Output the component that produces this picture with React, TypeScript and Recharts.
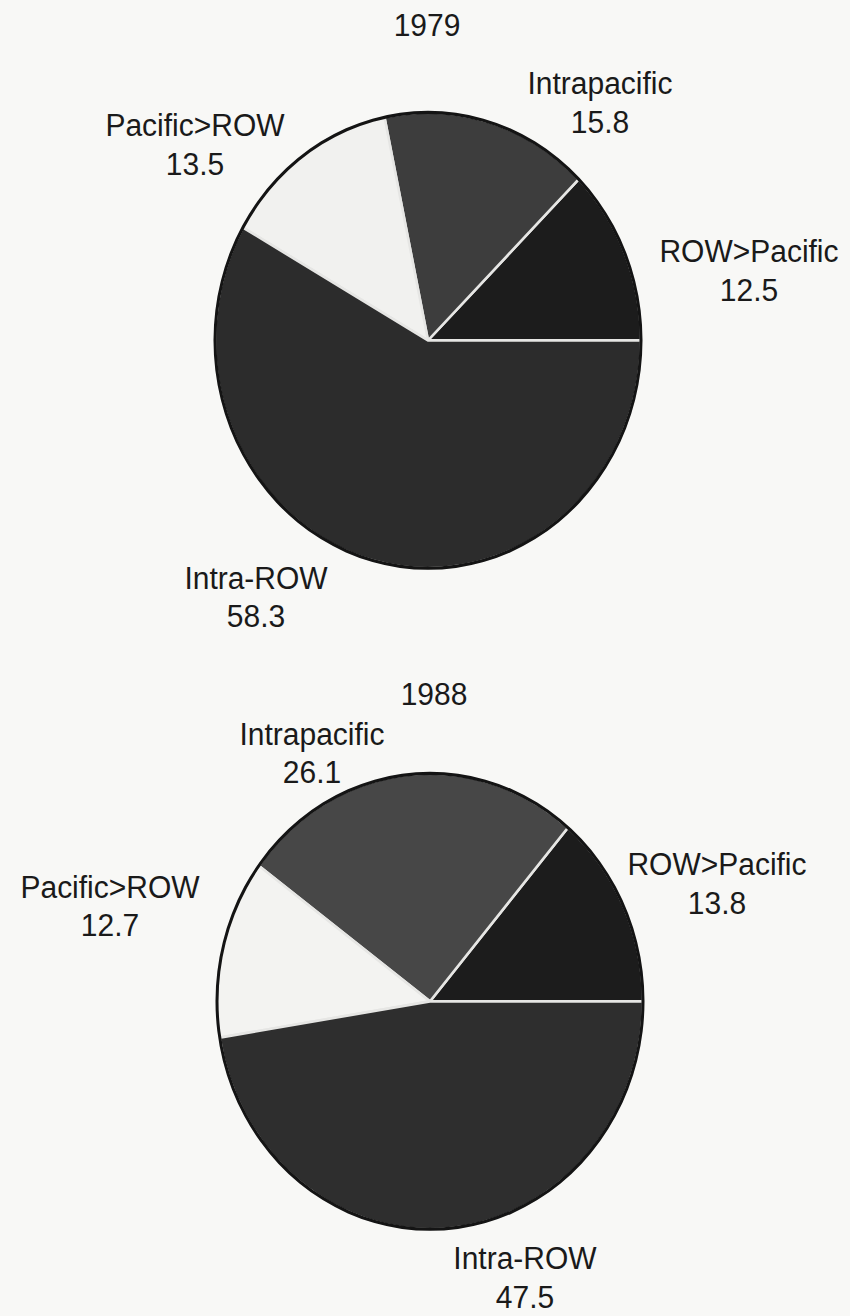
import { PieChart, Pie, Cell } from "recharts";

// shares of trade flows, percent
const sliceNames = ["ROW>Pacific", "Intrapacific", "Pacific>ROW", "Intra-ROW"];
const shares1979 = [12.5, 15.8, 13.5, 58.3];
const shares1988 = [13.8, 26.1, 12.7, 47.5];
const years = ["1979", "1988"];

const data1979 = sliceNames.map((name, i) => ({ name, value: shares1979[i] }));
const data1988 = sliceNames.map((name, i) => ({ name, value: shares1988[i] }));
const rim = [{ name: "rim", value: 1 }];

// the scan is stretched a bit vertically, so the whole chart is too
const SY = 1.07;
const W = 850;
const H = Math.round(1316 / SY);
const R = 213;

const fills1979: Record<string, string> = {
    "ROW>Pacific": "#1c1c1c",
    Intrapacific: "#3d3d3d",
    "Pacific>ROW": "#f1f1ef",
    "Intra-ROW": "#2c2c2c",
};
const fills1988: Record<string, string> = {
    "ROW>Pacific": "#1c1c1c",
    Intrapacific: "#474747",
    "Pacific>ROW": "#f3f3f1",
    "Intra-ROW": "#2e2e2e",
};

// label offsets from the pie centre
const layout1979: Record<string, [number, number]> = {
    Intrapacific: [172, -240],
    "Pacific>ROW": [-233, -201],
    "ROW>Pacific": [321, -83],
    "Intra-ROW": [-172, 222],
};
const layout1988: Record<string, [number, number]> = {
    Intrapacific: [-118, -250],
    "Pacific>ROW": [-320, -107],
    "ROW>Pacific": [287, -128],
    "Intra-ROW": [95, 240],
};

const font = { fontFamily: "'Liberation Sans', Arial, sans-serif", fontSize: 30, fill: "#1a1a1a" };

const makeLabel = (layout: Record<string, [number, number]>, gap: number) => (props: any) => {
    const name = props.payload?.name ?? props.name;
    const value = props.payload?.value ?? props.value;
    const [dx, dy] = layout[name];
    const x = props.cx + dx;
    const y = props.cy + dy;
    return (
        <g>
            <text x={x} y={y} textAnchor="middle" dominantBaseline="central" {...font}>{name}</text>
            <text x={x} y={y + gap} textAnchor="middle" dominantBaseline="central" {...font}>{Number(value).toFixed(1)}</text>
        </g>
    );
};

export default function App() {
    const c1 = { x: 423, y: 335 / SY };
    const c2 = { x: 425, y: 996 / SY };
    return (
        <div style={{ position: "absolute", left: 0, top: 0, width: W, height: 1316, overflow: "hidden", background: "#f8f8f6" }}>
            <div style={{ transform: `scaleY(${SY})`, transformOrigin: "top left" }}>
                <PieChart width={W} height={H}>
                    <text x={427} y={25 / SY} textAnchor="middle" dominantBaseline="central" {...font}>{years[0]}</text>
                    <text x={434} y={694 / SY} textAnchor="middle" dominantBaseline="central" {...font}>{years[1]}</text>

                    <Pie data={data1979} dataKey="value" nameKey="name" cx={c1.x} cy={c1.y} outerRadius={R}
                        startAngle={0} endAngle={360} stroke="#e6e6e4" strokeWidth={2.5}
                        label={makeLabel(layout1979, 36)} labelLine={false} isAnimationActive={false}>
                        {data1979.map((d) => <Cell key={d.name} fill={fills1979[d.name]} />)}
                    </Pie>
                    <Pie data={rim} dataKey="value" cx={c1.x} cy={c1.y} innerRadius={R - 1.5} outerRadius={R + 1.5}
                        fill="#141414" stroke="none" isAnimationActive={false} />

                    <Pie data={data1988} dataKey="value" nameKey="name" cx={c2.x} cy={c2.y} outerRadius={R}
                        startAngle={0} endAngle={360} stroke="#e6e6e4" strokeWidth={2.5}
                        label={makeLabel(layout1988, 36)} labelLine={false} isAnimationActive={false}>
                        {data1988.map((d) => <Cell key={d.name} fill={fills1988[d.name]} />)}
                    </Pie>
                    <Pie data={rim} dataKey="value" cx={c2.x} cy={c2.y} innerRadius={R - 1.5} outerRadius={R + 1.5}
                        fill="#141414" stroke="none" isAnimationActive={false} />
                </PieChart>
            </div>
        </div>
    );
}
